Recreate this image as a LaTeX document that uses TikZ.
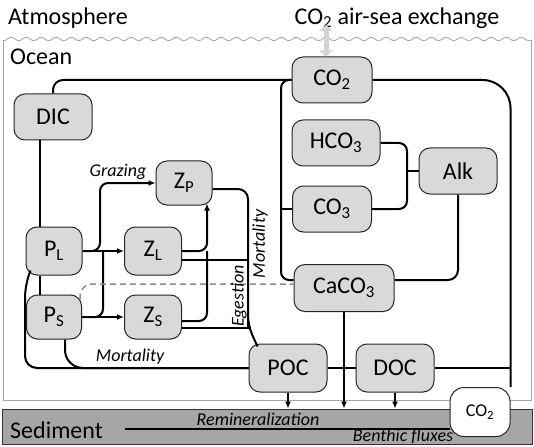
\documentclass[tikz,border=0pt]{standalone}
\usepackage{fontspec}
\setmainfont{Carlito}
\usepackage{tikz}
\usetikzlibrary{arrows.meta}
\definecolor{boxgray}{RGB}{217,217,217}
\definecolor{sedgray}{RGB}{166,166,166}
\definecolor{edgegray}{RGB}{165,165,165}

\begin{document}
\begin{tikzpicture}[x=1pt,y=-1pt,
  pool/.style={draw=black!85,line width=1pt,fill=boxgray,rounded corners=11pt,
    minimum height=46pt,inner sep=0pt,font=\fontsize{24}{24}\selectfont},
  flow/.style={line width=2pt},
  flowarr/.style={flow,-{Latex[length=7pt,width=6pt]}},
  big/.style={font=\fontsize{24}{24}\selectfont,inner sep=0pt},
  lbl/.style={font=\fontsize{18}{18}\selectfont\itshape,inner sep=0pt}]
  \useasboundingbox (0,0) rectangle (534,446);
  \fill[white] (0,0) rectangle (534,446);
  \draw[edgegray,line width=0.8pt,domain=3:531,samples=220,smooth] plot (\x,{39+1.8*sin(24*\x)});
  \draw[edgegray,line width=0.8pt] (3,40) -- (3,400) -- (531,400) -- (531,40);
  \node[draw=black!80,line width=1pt,fill=sedgray,minimum width=530pt,minimum height=35pt,inner sep=0pt] (sed) at (267,426.5) {};

  \node[big,anchor=west] (atm) at (8,18) {Atmosphere};
  \node[big] (xch) at (397,18) {CO\textsubscript{2} air-sea exchange};
  \node[big,anchor=west] (ocean) at (10,57) {Ocean};
  \node[big,anchor=west] (sedtxt) at (10,430) {Sediment};

  \node[pool,minimum width=78pt] (dic) at (53,117) {DIC};
  \node[pool,minimum width=80pt] (co2) at (332,80) {CO\textsubscript{2}};
  \node[pool,minimum width=88pt] (hco3) at (336,143) {HCO\textsubscript{3}};
  \node[pool,minimum width=79pt] (co3) at (332,209) {CO\textsubscript{3}};
  \node[pool,minimum width=78pt] (alk) at (458,171) {Alk};
  \node[pool,minimum width=100pt,minimum height=47pt] (caco3) at (344,288) {CaCO\textsubscript{3}};
  \node[pool,minimum width=56pt,minimum height=44pt] (zp) at (184,183) {Z\textsubscript{P}};
  \node[pool,minimum width=56pt,minimum height=48pt] (pl) at (54,251) {P\textsubscript{L}};
  \node[pool,minimum width=57pt,minimum height=48pt] (zl) at (153,251) {Z\textsubscript{L}};
  \node[pool,minimum width=55pt,minimum height=44pt] (ps) at (54,317) {P\textsubscript{S}};
  \node[pool,minimum width=57pt,minimum height=44pt] (zs) at (153,317) {Z\textsubscript{S}};
  \node[pool,minimum width=78pt,minimum height=48pt] (poc) at (288,368) {POC};
  \node[pool,minimum width=78pt,minimum height=48pt] (doc) at (395,368) {DOC};
  \node[pool,fill=white,rounded corners=14pt,minimum width=60pt,minimum height=49pt,
    font=\fontsize{18}{18}\selectfont] (bco2) at (480,412) {CO\textsubscript{2}};

  \coordinate (air) at (326,25);
  \coordinate (carb) at (281,0);
  \coordinate (brk) at (407,0);
  \coordinate (gr1) at (100,0);
  \coordinate (gr2) at (103,0);
  \coordinate (zrail) at (207,0);
  \coordinate (mrail) at (248,0);
  \coordinate (lrail) at (25,0);
  \coordinate (sedline) at (125,429);

  \draw[line width=5pt,black!17,{Triangle[length=6pt,width=13pt]}-{Triangle[length=6pt,width=13pt]}]
    (air) -- ([xshift=-6pt]co2.north);

  \draw[flow,rounded corners=10pt] (dic.north) |- (co2.west);
  \draw[flow,rounded corners=28pt] (co2.east) -| (bco2.north east);
  \draw[flow,rounded corners=8pt] (co2.west) -| ([yshift=8pt]carb |- caco3.west) -- ([yshift=8pt]caco3.west);
  \draw[flow] (carb |- co3.west) -- (co3.west);
  \draw[flow,rounded corners=8pt] (hco3.east) -| (brk |- co3.east) -- (co3.east);
  \draw[flow] (brk |- alk.west) -- (alk.west);
  \draw[flow,rounded corners=10pt] (alk.south) |- ([yshift=8pt]caco3.east);

  \draw[flow] ([xshift=-13pt]dic.south) -- ([xshift=-14pt]pl.north);
  \draw[flow] ([xshift=-14pt]pl.south) -- ([xshift=-14pt]ps.north);
  \draw[flowarr] (pl.east) -- (zl.west);
  \draw[flowarr] (ps.east) -- (zs.west);
  \draw[flowarr,rounded corners=8pt] (pl.east) -| (gr1 |- zp.west) -- (zp.west);
  \draw[flow,rounded corners=8pt] (ps.east) -| (gr2 |- pl.east);
  \draw[flowarr,rounded corners=8pt] (zl.east) -| ([yshift=2pt]zrail |- zp.south);
  \draw[flow,rounded corners=8pt] ([yshift=-4pt]zs.east) -| (zrail |- zl.east);
  \draw[flow] ([yshift=-9pt]zl.east) -| ([yshift=-11pt]mrail |- zs.east) -- ([yshift=-11pt]zs.east);
  \draw[flow,rounded corners=10pt] ([yshift=-6pt]zp.east) -| ([yshift=18pt]mrail |- poc.north)
    -- ([xshift=9pt,yshift=-3pt]poc.north west);
  \draw[flow,rounded corners=12pt] ([xshift=5pt,yshift=5pt]pl.south west)
    -- ([yshift=-10pt]lrail |- pl.south) |- (poc.west);
  \draw[flow,rounded corners=18pt] ([xshift=11pt]ps.south) |- (poc.west);
  \draw[black!45,line width=1.5pt,dash pattern=on 6pt off 4pt,rounded corners=12pt]
    ([xshift=-2pt,yshift=-5pt]ps.north east) |- ([yshift=4pt]caco3.west);

  \draw[flow] (poc.east) -- (doc.west);
  \draw[flow] (doc.east) -- (doc.east -| bco2.north east);
  \draw[flowarr] (caco3.south) -- (caco3.south |- sed.north);
  \draw[flowarr] (poc.south) -- (poc.south |- sed.north);
  \draw[flowarr] (doc.south) -- (doc.south |- sed.north);
  \draw[flow] (sedline) -- (sedline -| bco2.west);

  \node[lbl] (graz) at (118,172) {Grazing};
  \node[lbl,rotate=90] (mort1) at (260,244) {Mortality};
  \node[lbl,rotate=90] (eges) at (239,296) {Egestion};
  \node[lbl] (mort2) at (130,357) {Mortality};
  \node[lbl] (remin) at (258,419) {Remineralization};
  \node[lbl] (benth) at (403,436) {Benthic fluxes};
\end{tikzpicture}
\end{document}
